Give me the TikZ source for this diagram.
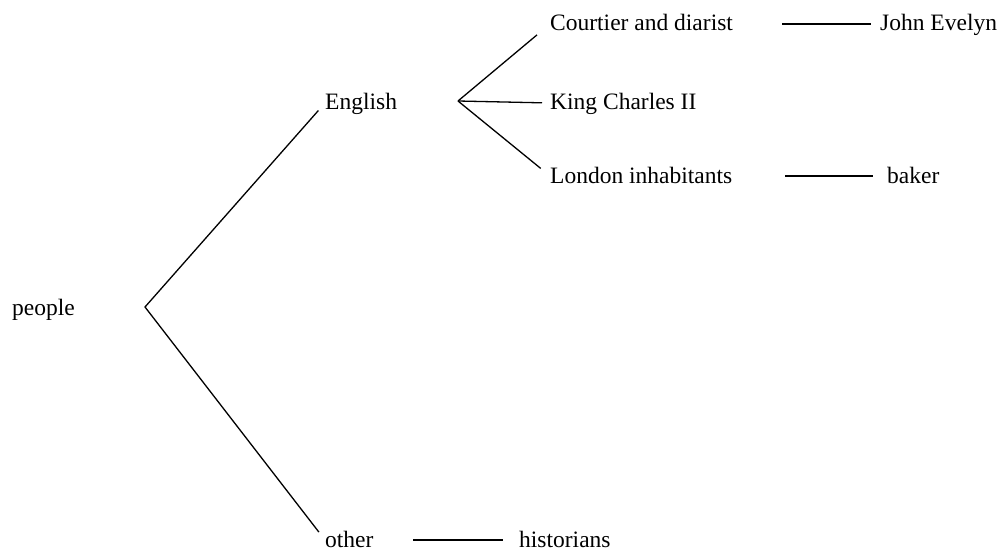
\documentclass[tikz,border=0pt]{standalone}
\usepackage{fontspec}
\setmainfont{Liberation Serif}
\begin{document}
\begin{tikzpicture}[x=1pt,y=-1pt,
  lbl/.style={anchor=west,inner sep=0pt,text height=17pt,text depth=3pt,
    font=\fontsize{23.5}{26}\selectfont},
  link/.style={line width=1.3pt,black}]
\useasboundingbox (0,0) rectangle (999,551);
% labels
\node[lbl] (people)  at (12,308) {people};
\node[lbl] (english) at (325,103) {English};
\node[lbl] (other)   at (325,540) {other};
\node[lbl] (hist)    at (519,540) {historians};
\node[lbl] (court)   at (550,24) {Courtier and diarist};
\node[lbl] (king)    at (550,103) {King Charles II};
\node[lbl] (london)  at (550,176) {London inhabitants};
\node[lbl] (john)    at (880,24) {John Evelyn};
\node[lbl] (baker)   at (887,176) {baker};
% fork points
\coordinate (pfork) at (145,307);
\coordinate (efork) at (458,101);
% branches
\draw[link,shorten <=10pt,shorten >=10pt] (english.west) -- (pfork) -- (other.west);
\draw[link,shorten >=17pt] (efork) -- (court.west);
\draw[link,shorten >=8pt]  (efork) -- (king.west);
\draw[link,shorten >=12pt] (efork) -- (london.west);
% leaf connectors
\draw[link] (court.east -| 782,0) -- (john.west -| 871,0);
\draw[link] (london.east -| 785,0) -- (baker.west -| 873,0);
\draw[link] (other.east -| 413,0) -- (hist.west -| 503,0);
\end{tikzpicture}
\end{document}
